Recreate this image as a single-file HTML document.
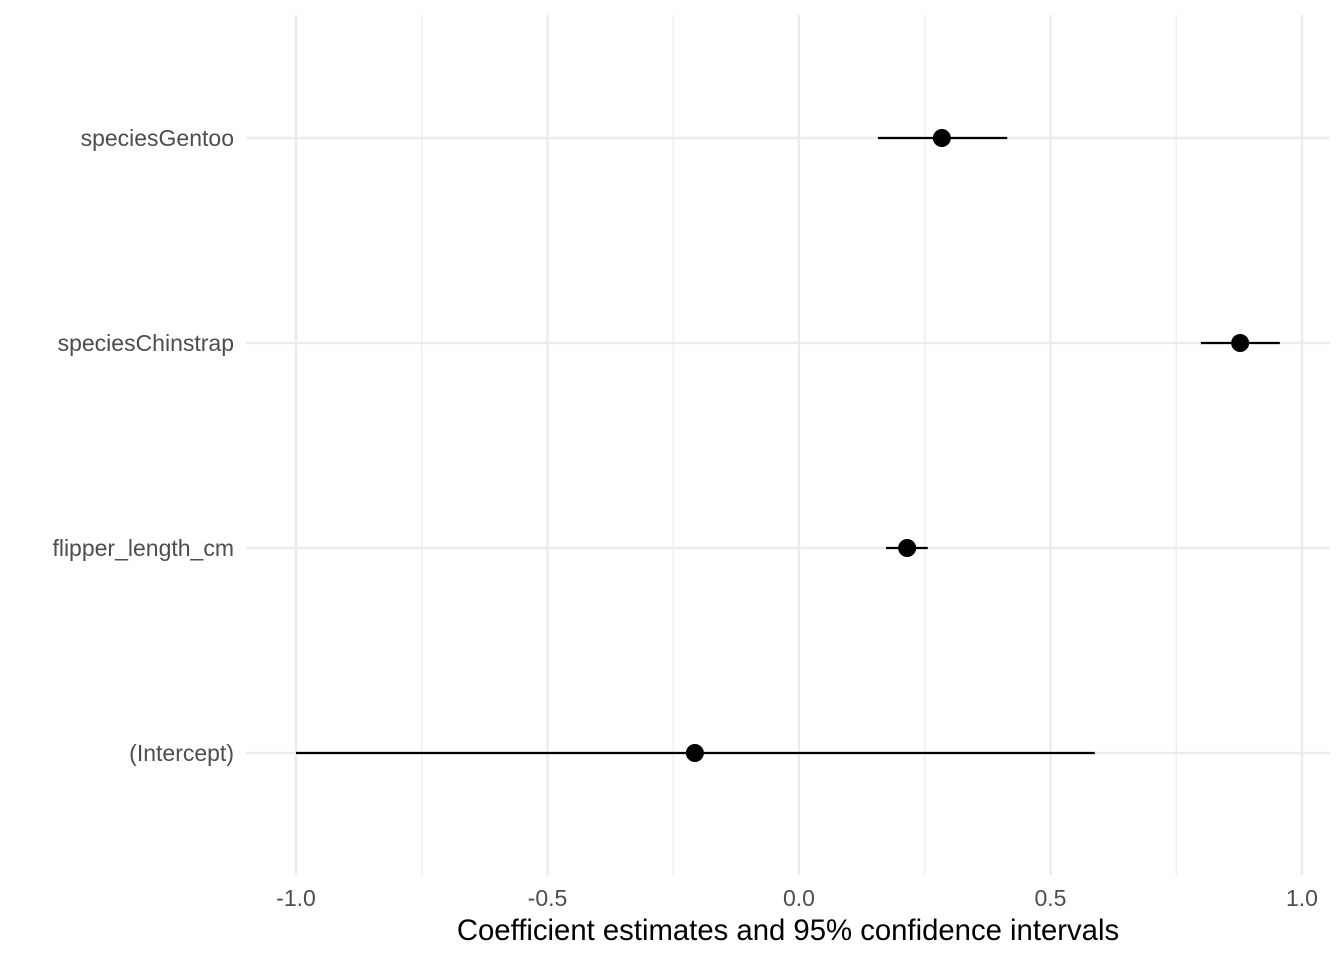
<!DOCTYPE html>
<html><head><meta charset="utf-8"><style>
body{margin:0;background:#fff;}
svg{display:block;font-family:"Liberation Sans",Arial,sans-serif;}
</style></head><body>
<svg id="chart" width="1344" height="960" viewBox="0 0 1344 960">
<g id="grid"></g>
<g id="marks"></g>
<g id="axes"></g>
<text x="788" y="940" text-anchor="middle" font-size="29.3" fill="#000">Coefficient estimates and 95% confidence intervals</text>
</svg>
<script>
const terms = ["(Intercept)","flipper_length_cm","speciesChinstrap","speciesGentoo"];
const estimates = [-0.207, 0.215, 0.877, 0.284];
const lowers = [-1.0, 0.173, 0.799, 0.157];
const uppers = [0.588, 0.256, 0.956, 0.414];
const xTicks = [-1.0,-0.5,0.0,0.5,1.0];
const xTickLabels = ["-1.0","-0.5","0.0","0.5","1.0"];
const xMinor = [-0.75,-0.25,0.25,0.75];

const NS="http://www.w3.org/2000/svg";
const plotLeft=246,plotRight=1330,plotTop=15,plotBottom=875;
const xs=v=>799+v*503;
const ys=i=>753-i*205;
function mk(tag,attrs,parent){const e=document.createElementNS(NS,tag);for(const k in attrs)e.setAttribute(k,attrs[k]);parent.appendChild(e);return e;}
const gridG=document.getElementById('grid'),marksG=document.getElementById('marks'),axesG=document.getElementById('axes');
xMinor.forEach(v=>{const l=mk('line',{x1:xs(v),x2:xs(v),y1:plotTop,y2:plotBottom,stroke:'#ebebeb','stroke-width':1.2},gridG);

});
xTicks.forEach((v,i)=>{const l=mk('line',{x1:xs(v),x2:xs(v),y1:plotTop,y2:plotBottom,stroke:'#ebebeb','stroke-width':2.4},gridG);


const t=mk('text',{x:xs(v),y:906,'text-anchor':'middle','font-size':23,fill:'#4d4d4d'},axesG);t.textContent=xTickLabels[i];

});
terms.forEach((term,i)=>{const y=ys(i);
const g=mk('line',{x1:plotLeft,x2:plotRight,y1:y,y2:y,stroke:'#ebebeb','stroke-width':2.4},gridG);


const t=mk('text',{x:234,y:y+8,'text-anchor':'end','font-size':23,fill:'#4d4d4d'},axesG);t.textContent=term;


const ci=mk('line',{x1:xs(lowers[i]),x2:xs(uppers[i]),y1:y,y2:y,stroke:'#000','stroke-width':2.2},marksG);


const p=mk('circle',{cx:xs(estimates[i]),cy:y,r:9,fill:'#000'},marksG);

});
</script>
</body></html>
